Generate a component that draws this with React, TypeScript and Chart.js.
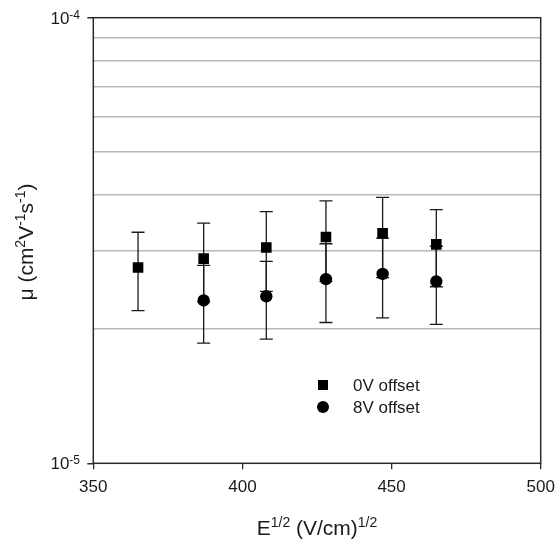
import React, { useEffect, useRef } from 'react';
import { Chart, registerables } from 'chart.js';

Chart.register(...registerables);

// ---- data ----
const xValues0V = [365, 387, 408, 428, 447, 465];
const mu0V = [2.75e-5, 2.88e-5, 3.05e-5, 3.22e-5, 3.28e-5, 3.1e-5];
const err0V = [0.55e-5, 0.58e-5, 0.62e-5, 0.66e-5, 0.67e-5, 0.61e-5];

const xValues8V = [387, 408, 428, 447, 465];
const mu8V = [2.32e-5, 2.37e-5, 2.59e-5, 2.66e-5, 2.56e-5];
const err8V = [0.46e-5, 0.47e-5, 0.52e-5, 0.54e-5, 0.51e-5];

const seriesLabels = ['0V offset', '8V offset'];

const xMin = 350;
const xMax = 500;
const xStep = 50;

const yTicks = [1e-5, 2e-5, 3e-5, 4e-5, 5e-5, 6e-5, 7e-5, 8e-5, 9e-5, 1e-4];
const yMajorTicks = [1e-5, 1e-4];
const yMajorBase = ['10', '10'];
const yMajorExp = ['-5', '-4'];

type Part = { t: string; sup?: boolean };
const xTitleParts: Part[] = [
  { t: 'E' },
  { t: '1/2', sup: true },
  { t: ' (V/cm)' },
  { t: '1/2', sup: true },
];
const yTitleParts: Part[] = [
  { t: 'μ (cm' },
  { t: '2', sup: true },
  { t: 'V' },
  { t: '-1', sup: true },
  { t: 's' },
  { t: '-1', sup: true },
  { t: ')' },
];

const FONT = '"Liberation Sans", Arial, Helvetica, sans-serif';
const TEXT = '#1a1a1a';

function richWidth(ctx: CanvasRenderingContext2D, parts: Part[], main: number, sup: number) {
  let w = 0;
  for (const p of parts) {
    ctx.font = `${p.sup ? sup : main}px ${FONT}`;
    w += ctx.measureText(p.t).width;
  }
  return w;
}

function drawRich(
  ctx: CanvasRenderingContext2D,
  parts: Part[],
  x: number,
  y: number,
  main: number,
  sup: number,
  rise: number,
) {
  let cx = x;
  ctx.textBaseline = 'alphabetic';
  ctx.textAlign = 'left';
  for (const p of parts) {
    ctx.font = `${p.sup ? sup : main}px ${FONT}`;
    ctx.fillText(p.t, cx, p.sup ? y - rise : y);
    cx += ctx.measureText(p.t).width;
  }
}

const customPlugin = {
  id: 'customDecor',
  beforeDatasetsDraw(chart: any) {
    const ctx: CanvasRenderingContext2D = chart.ctx;
    const xs = chart.scales.x;
    const ys = chart.scales.y;
    ctx.save();
    ctx.strokeStyle = '#1a1a1a';
    ctx.lineWidth = 1.3;
    chart.data.datasets.forEach((ds: any) => {
      const errs: number[] = ds.errorBars || [];
      ds.data.forEach((pt: any, j: number) => {
        const e = errs[j];
        if (e == null) return;
        const px = xs.getPixelForValue(pt.x);
        const top = ys.getPixelForValue(pt.y + e);
        const bot = ys.getPixelForValue(pt.y - e);
        const cap = 6.5;
        ctx.beginPath();
        ctx.moveTo(px, top);
        ctx.lineTo(px, bot);
        ctx.moveTo(px - cap, top);
        ctx.lineTo(px + cap, top);
        ctx.moveTo(px - cap, bot);
        ctx.lineTo(px + cap, bot);
        ctx.stroke();
      });
    });
    ctx.restore();
  },
  afterDraw(chart: any) {
    const ctx: CanvasRenderingContext2D = chart.ctx;
    const a = chart.chartArea;
    const ys = chart.scales.y;
    ctx.save();
    // frame
    ctx.strokeStyle = '#2a2a2a';
    ctx.lineWidth = 1.5;
    ctx.strokeRect(a.left, a.top, a.right - a.left, a.bottom - a.top);

    ctx.fillStyle = TEXT;
    // y major tick labels
    yMajorTicks.forEach((v, i) => {
      const py = ys.getPixelForValue(v);
      const parts: Part[] = [{ t: yMajorBase[i] }, { t: yMajorExp[i], sup: true }];
      const w = richWidth(ctx, parts, 17, 12);
      drawRich(ctx, parts, 80 - w, py + 6, 17, 12, 5);
    });

    // x title
    {
      const w = richWidth(ctx, xTitleParts, 21, 14);
      const cx = (a.left + a.right) / 2;
      drawRich(ctx, xTitleParts, cx - w / 2, 535, 21, 14, 8);
    }
    // y title (rotated)
    {
      const w = richWidth(ctx, yTitleParts, 21, 14);
      ctx.save();
      ctx.translate(33, 242);
      ctx.rotate(-Math.PI / 2);
      drawRich(ctx, yTitleParts, -w / 2, 0, 21, 14, 8);
      ctx.restore();
    }

    // legend
    const lx = 323;
    const ly = [385, 407];
    ctx.fillStyle = '#000';
    ctx.fillRect(lx - 5, ly[0] - 5, 10, 10);
    ctx.beginPath();
    ctx.arc(lx, ly[1], 6, 0, Math.PI * 2);
    ctx.fill();
    ctx.fillStyle = TEXT;
    ctx.font = `17px ${FONT}`;
    ctx.textAlign = 'left';
    ctx.textBaseline = 'middle';
    seriesLabels.forEach((s, i) => ctx.fillText(s, 353, ly[i] + 1));
    ctx.restore();
  },
};

export default function App() {
  const ref = useRef<HTMLCanvasElement | null>(null);
  useEffect(() => {
    if (!ref.current) return;
    const chart = new Chart(ref.current, {
      type: 'scatter',
      data: {
        datasets: [
          {
            label: seriesLabels[0],
            data: xValues0V.map((x, i) => ({ x, y: mu0V[i] })),
            errorBars: err0V,
            pointStyle: 'rect',
            pointRadius: 7.5,
            pointBackgroundColor: '#000',
            pointBorderColor: '#000',
            pointBorderWidth: 0,
            showLine: false,
          } as any,
          {
            label: seriesLabels[1],
            data: xValues8V.map((x, i) => ({ x, y: mu8V[i] })),
            errorBars: err8V,
            pointStyle: 'circle',
            pointRadius: 6.2,
            pointBackgroundColor: '#000',
            pointBorderColor: '#000',
            pointBorderWidth: 0,
            showLine: false,
          } as any,
        ],
      },
      options: {
        responsive: false,
        animation: false,
        events: [],
        layout: { padding: { left: 0, top: 17.7, right: 15.3, bottom: 0 } },
        plugins: {
          legend: { display: false },
          tooltip: { enabled: false },
        },
        scales: {
          x: {
            type: 'linear',
            min: xMin,
            max: xMax,
            border: { display: false },
            grid: {
              drawOnChartArea: false,
              drawTicks: true,
              tickLength: 6,
              color: '#2a2a2a',
              lineWidth: 1.3,
            },
            ticks: {
              stepSize: xStep,
              padding: 8,
              color: TEXT,
              font: { family: FONT, size: 17 },
              maxRotation: 0,
            },
            afterFit: (s: any) => {
              s.height = 539 - 463.3;
              s.paddingLeft = 0;
              s.paddingRight = 0;
            },
          },
          y: {
            type: 'logarithmic',
            min: 1e-5,
            max: 1e-4,
            border: { display: false },
            afterBuildTicks: (s: any) => {
              s.ticks = yTicks.map((v) => ({ value: v, major: yMajorTicks.includes(v) }));
            },
            grid: {
              drawTicks: true,
              tickLength: 6,
              lineWidth: 1.5,
              color: (c: any) =>
                yMajorTicks.includes(c.tick?.value) ? 'rgba(0,0,0,0)' : '#b8b8b8',
              tickColor: (c: any) =>
                yMajorTicks.includes(c.tick?.value) ? '#2a2a2a' : 'rgba(0,0,0,0)',
            },
            ticks: { display: false },
            afterFit: (s: any) => {
              s.width = 93.3;
              s.paddingTop = 0;
              s.paddingBottom = 0;
            },
          },
        },
      },
      plugins: [customPlugin],
    });
    return () => chart.destroy();
  }, []);
  return (
    <div style={{ position: 'absolute', left: 0, top: 0, width: 556, height: 539, background: '#fff' }}>
      <canvas ref={ref} width={556} height={539} style={{ display: 'block' }} />
    </div>
  );
}
